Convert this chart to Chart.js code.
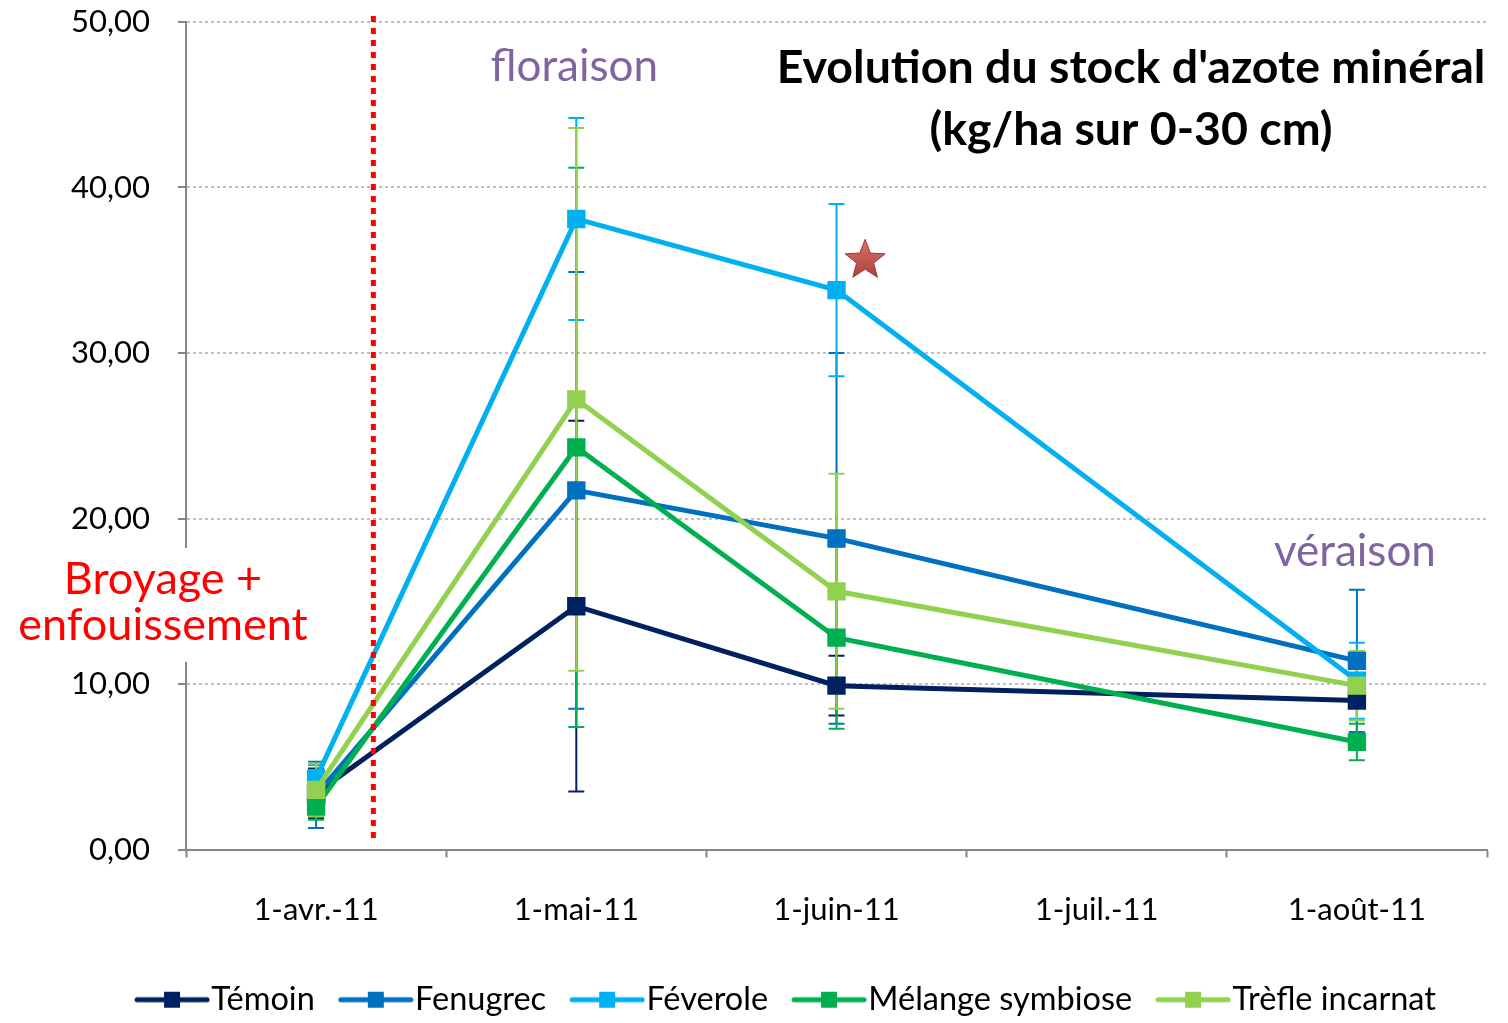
<!DOCTYPE html>
<html>
<head>
<meta charset="utf-8">
<script src="https://cdn.jsdelivr.net/npm/chart.js@4.4.0/dist/chart.umd.min.js"></script>
<style>
  html, body { margin: 0; padding: 0; background: #fff; }
  #wrap { width: 1508px; height: 1023px; }
</style>
</head>
<body>
<div id="wrap"><canvas id="chart" width="1508" height="1023"></canvas></div>
<script>
// Dates de prélèvement (1-juil. sans mesure)
const dates = ['1-avr.-11', '1-mai-11', '1-juin-11', '1-juil.-11', '1-août-11'];
const yTicks = [0, 10, 20, 30, 40, 50];

// Stock d'azote minéral (kg/ha sur 0-30 cm)
const temoin   = [3.4, 14.7, 9.9, null, 9.0];
const fenugrec = [3.3, 21.7, 18.8, null, 11.4];
const feverole = [4.3, 38.1, 33.8, null, 10.2];
const melange  = [2.6, 24.3, 12.8, null, 6.5];
const trefle   = [3.6, 27.2, 15.6, null, 9.9];

// Ecarts (+/-) des barres d'erreur
const errTemoin   = [1.5, 11.2, 1.8, null, 2.4];
const errFenugrec = [2.0, 13.2, 11.2, null, 4.3];
const errFeverole = [0.8, 6.1, 5.2, null, 2.3];
const errMelange  = [0.8, 16.9, 5.5, null, 1.1];
const errTrefle   = [1.6, 16.4, 7.1, null, 2.1];

const FONT = 'Lato';

function legendIcon(color) {
    const c = document.createElement('canvas');
    c.width = 76; c.height = 20;
    const g = c.getContext('2d');
    g.strokeStyle = color;
    g.lineWidth = 5;
    g.lineCap = 'round';
    g.beginPath(); g.moveTo(3, 10); g.lineTo(73, 10); g.stroke();
    g.fillStyle = color;
    g.fillRect(30, 2, 16, 16);
    return c;
}

function serie(label, data, err, color, order) {
    return {
        label: label,
        data: data,
        err: err,
        borderColor: color,
        backgroundColor: color,
        borderWidth: 5,
        pointStyle: 'rect',
        pointRadius: 13,
        pointHoverRadius: 13,
        pointBorderWidth: 0,
        spanGaps: true,
        tension: 0,
        order: order,
        legendIcon: legendIcon(color)
    };
}

// barres d'erreur, sous les courbes
const errorBars = {
    id: 'errorBars',
    beforeDatasetsDraw(chart) {
        const { ctx, scales: { x, y } } = chart;
        ctx.save();
        ctx.lineWidth = 2;
        chart.data.datasets.forEach(ds => {
            ctx.strokeStyle = ds.borderColor;
            ds.data.forEach((v, i) => {
                if (v === null || ds.err[i] === null) return;
                const px = x.getPixelForValue(i);
                const top = y.getPixelForValue(v + ds.err[i]);
                const bot = y.getPixelForValue(v - ds.err[i]);
                ctx.beginPath();
                ctx.moveTo(px, top); ctx.lineTo(px, bot);
                ctx.moveTo(px - 8, top); ctx.lineTo(px + 8, top);
                ctx.moveTo(px - 8, bot); ctx.lineTo(px + 8, bot);
                ctx.stroke();
            });
        });
        ctx.restore();
    }
};

// la légende est un peu décalée vers la droite dans l'original
const legendShift = {
    id: 'legendShift',
    afterLayout(chart) {
        chart.legend.left += 49;
        chart.legend.right += 49;
    }
};

function drawStar(ctx, cx, cy, outer, inner) {
    ctx.beginPath();
    for (let k = 0; k < 10; k++) {
        const r = k % 2 === 0 ? outer : inner;
        const a = -Math.PI / 2 + k * Math.PI / 5;
        const px = cx + r * Math.cos(a), py = cy + r * Math.sin(a);
        if (k === 0) ctx.moveTo(px, py); else ctx.lineTo(px, py);
    }
    ctx.closePath();
}

const annotations = {
    id: 'annotations',
    afterDraw(chart) {
        const { ctx, scales: { x, y }, chartArea } = chart;
        const step = x.getPixelForValue(1) - x.getPixelForValue(0);
        ctx.save();

        // broyage + enfouissement
        const xb = x.getPixelForValue(0) + 0.22 * step;
        ctx.strokeStyle = '#FF0000';
        ctx.lineWidth = 5;
        ctx.setLineDash([6, 6]);
        ctx.beginPath();
        ctx.moveTo(xb, chartArea.top - 6);
        ctx.lineTo(xb, chartArea.bottom - 8);
        ctx.stroke();
        ctx.setLineDash([]);

        ctx.fillStyle = '#fff';
        ctx.fillRect(12, 548, 300, 114);
        ctx.fillStyle = '#FF0000';
        ctx.font = '45px ' + FONT;
        ctx.textAlign = 'center';
        ctx.textBaseline = 'middle';
        ctx.fillText('Broyage +', 163, 579);
        ctx.fillText('enfouissement', 163, 625);

        // stades
        ctx.fillStyle = '#8064A2';
        ctx.font = '44px ' + FONT;
        ctx.fillText('floraison', x.getPixelForValue(1) - 2, y.getPixelForValue(47.3));
        ctx.fillText('véraison', x.getPixelForValue(4) - 2, y.getPixelForValue(18.0));

        // titre
        ctx.fillStyle = '#000';
        ctx.font = 'bold 46.5px ' + FONT;
        ctx.fillText("Evolution du stock d'azote minéral", 1131, 68);
        ctx.fillText('(kg/ha sur 0-30 cm)', 1131, 130);

        // étoile (différence significative)
        const sx = x.getPixelForValue(2) + 0.11 * step;
        const sy = y.getPixelForValue(35.6);
        const grad = ctx.createLinearGradient(sx, sy - 20, sx, sy + 18);
        grad.addColorStop(0, '#D9706C');
        grad.addColorStop(1, '#A8403C');
        drawStar(ctx, sx, sy, 21, 9);
        ctx.fillStyle = grad;
        ctx.fill();
        ctx.lineWidth = 1;
        ctx.strokeStyle = '#9B3B38';
        ctx.stroke();

        ctx.restore();
    }
};

new Chart(document.getElementById('chart'), {
    type: 'line',
    data: {
        labels: dates,
        datasets: [
            serie('Témoin', temoin, errTemoin, '#002060', 4),
            serie('Fenugrec', fenugrec, errFenugrec, '#0070C0', 3),
            serie('Féverole', feverole, errFeverole, '#00B0F0', 2),
            serie('Mélange symbiose', melange, errMelange, '#00B050', 1),
            serie('Trèfle incarnat', trefle, errTrefle, '#92D050', 0)
        ]
    },
    options: {
        responsive: false,
        animation: false,
        layout: { padding: { top: 22, right: 21, bottom: -3, left: 0 } },
        plugins: {
            tooltip: { enabled: false },
            legend: {
                position: 'bottom',
                labels: {
                    usePointStyle: true,
                    pointStyleWidth: 46,
                    boxHeight: 20,
                    padding: 38,
                    color: '#000',
                    font: { family: FONT, size: 32.5 },
                    generateLabels(chart) {
                        const items = Chart.defaults.plugins.legend.labels.generateLabels(chart);
                        items.forEach(it => {
                            it.pointStyle = chart.data.datasets[it.datasetIndex].legendIcon;
                        });
                        return items.sort((a, b) => a.datasetIndex - b.datasetIndex);
                    }
                }
            }
        },
        scales: {
            x: {
                offset: true,
                grid: { offset: true, drawOnChartArea: false, tickLength: 8, tickColor: '#868686', tickWidth: 2 },
                border: { color: '#868686', width: 2 },
                ticks: { color: '#000', font: { family: FONT, size: 31 }, padding: 34, maxRotation: 0, autoSkip: false },
                afterFit(s) { s.height = 96; }
            },
            y: {
                min: 0,
                max: 50,
                afterBuildTicks(s) { s.ticks = yTicks.map(v => ({ value: v })); },
                ticks: {
                    color: '#000',
                    font: { family: FONT, size: 31 },
                    padding: 28,
                    callback: v => v.toFixed(2).replace('.', ',')
                },
                grid: { color: '#BFBFBF', lineWidth: 2, tickLength: 8, tickColor: '#868686', tickWidth: 2, tickBorderDash: [] },
                border: { color: '#868686', width: 2, dash: [3, 3] },
                afterFit(s) {
                    s.width = 186;
                    s.paddingTop = 0;
                    s.paddingBottom = 0;
                }
            }
        }
    },
    plugins: [errorBars, legendShift, annotations]
});
</script>
</body>
</html>
